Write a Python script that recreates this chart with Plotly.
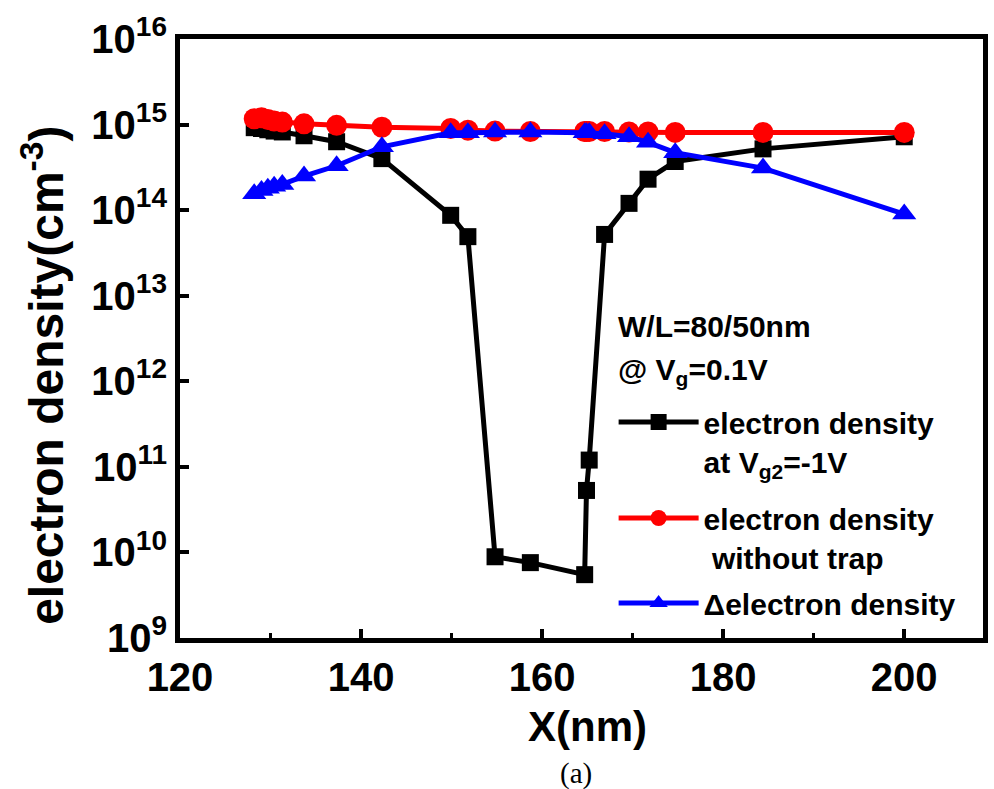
import plotly.graph_objects as go

# ---- data ----
x_nm = [128.2, 129.0, 129.7, 130.4, 131.3, 133.7, 137.3, 142.3, 149.9, 151.8,
        154.8, 158.7, 164.7, 164.9, 165.2, 166.9, 169.6, 171.7, 174.7, 184.4, 200.0]

n_vg2 = [9.2e14, 9.0e14, 8.7e14, 8.4e14, 8.2e14, 7.4e14, 6.3e14, 4.0e14, 8.7e13, 4.9e13,
         8.9e9, 7.6e9, 5.5e9, 5.3e10, 1.2e11, 5.2e13, 1.2e14, 2.3e14, 3.7e14, 5.2e14, 7.2e14]

n_notrap = [1.17e15, 1.2e15, 1.15e15, 1.1e15, 1.07e15, 1.02e15, 9.8e14, 9.3e14, 9.0e14, 8.6e14,
            8.4e14, 8.3e14, 8.3e14, 8.3e14, 8.3e14, 8.3e14, 8.2e14, 8.2e14, 8.1e14, 8.1e14, 8.1e14]

n_delta = [1.55e14, 1.7e14, 1.8e14, 1.9e14, 2.0e14, 2.5e14, 3.3e14, 5.5e14, 8.0e14, 8.0e14,
           8.2e14, 8.2e14, 8.0e14, 8.0e14, 8.0e14, 7.8e14, 7.2e14, 6.2e14, 4.7e14, 3.1e14, 9.0e13]

y_tick_vals = [1e9, 1e10, 1e11, 1e12, 1e13, 1e14, 1e15, 1e16]
y_tick_text = ["10<sup>9</sup>", "10<sup>10</sup>", "10<sup>11</sup>", "10<sup>12</sup>",
               "10<sup>13</sup>", "10<sup>14</sup>", "10<sup>15</sup>", "10<sup>16</sup>"]
x_tick_vals = [120, 140, 160, 180, 200]

FONT = "Liberation Sans"
LEG_FONT = dict(family=FONT, size=30, weight="bold", color="black")

fig = go.Figure()

fig.add_trace(go.Scatter(
    x=x_nm, y=n_vg2, mode="lines+markers",
    name="electron density<br>at V<sub>g2</sub>=-1V",
    line=dict(color="black", width=5),
    marker=dict(symbol="square", size=17, color="black"),
    legend="legend",
))
fig.add_trace(go.Scatter(
    x=x_nm, y=n_notrap, mode="lines+markers",
    name="electron density<br> without trap",
    line=dict(color="#ff0000", width=5),
    marker=dict(symbol="circle", size=21, color="#ff0000"),
    legend="legend2",
))
fig.add_trace(go.Scatter(
    x=x_nm, y=n_delta, mode="lines+markers",
    name="\u0394electron density",
    line=dict(color="#0000ff", width=5),
    marker=dict(symbol="triangle-up", size=21, color="#0000ff"),
    legend="legend3",
))


def leg(ypx):
    return dict(
        x=0.540, y=(638 - ypx) / 599, xanchor="left", yanchor="top",
        bgcolor="rgba(0,0,0,0)", font=LEG_FONT, valign="top", itemwidth=80,
    )


fig.update_layout(
    width=994, height=789,
    margin=dict(l=180, r=6, t=39, b=151),
    paper_bgcolor="white", plot_bgcolor="white",
    font=dict(family=FONT, color="black"),
    showlegend=True,
    legend=leg(396),
    legend2=leg(492),
    legend3=leg(577),
    xaxis=dict(
        range=[120, 208.7], tickvals=x_tick_vals,
        ticks="inside", ticklen=9, tickwidth=4, tickcolor="black",
        minor=dict(dtick=10, tick0=120, ticks="inside", ticklen=5, tickwidth=3, tickcolor="black"),
        showline=True, linewidth=5, linecolor="black", mirror=True,
        showgrid=False, zeroline=False,
        tickfont=dict(family=FONT, size=40, weight="bold", color="black"),
    ),
    yaxis=dict(
        type="log", range=[9, 16],
        tickvals=y_tick_vals, ticktext=y_tick_text,
        ticks="inside", ticklen=9, tickwidth=4, tickcolor="black",
        showline=True, linewidth=5, linecolor="black", mirror=True,
        showgrid=False, zeroline=False,
        tickfont=dict(family=FONT, size=40, weight="bold", color="black"),
    ),
)

fig.add_annotation(
    text="W/L=80/50nm",
    xref="paper", yref="paper", x=(619 - 180) / 808, y=(638 - 326) / 599,
    xanchor="left", yanchor="middle", showarrow=False, font=LEG_FONT,
)
fig.add_annotation(
    text="@ V<sub>g</sub>=0.1V",
    xref="paper", yref="paper", x=(619 - 180) / 808, y=(638 - 371) / 599,
    xanchor="left", yanchor="middle", showarrow=False, font=LEG_FONT,
)
fig.add_annotation(
    text="electron density(cm<sup>-3</sup>)", textangle=-90,
    xref="paper", yref="paper", x=(42 - 180) / 808, y=(638 - 375) / 599,
    xanchor="center", yanchor="middle", showarrow=False,
    font=dict(family=FONT, size=48, weight="bold", color="black"),
)
fig.add_annotation(
    text="X(nm)",
    xref="paper", yref="paper", x=(590 - 180) / 808, y=(638 - 726) / 599,
    xanchor="center", yanchor="middle", showarrow=False,
    font=dict(family=FONT, size=42, weight="bold", color="black"),
)
fig.add_annotation(
    text="(a)",
    xref="paper", yref="paper", x=(578 - 180) / 808, y=(638 - 773) / 599,
    xanchor="center", yanchor="middle", showarrow=False,
    font=dict(family="Liberation Serif", size=29, color="black"),
)

fig.write_html("out.html")
